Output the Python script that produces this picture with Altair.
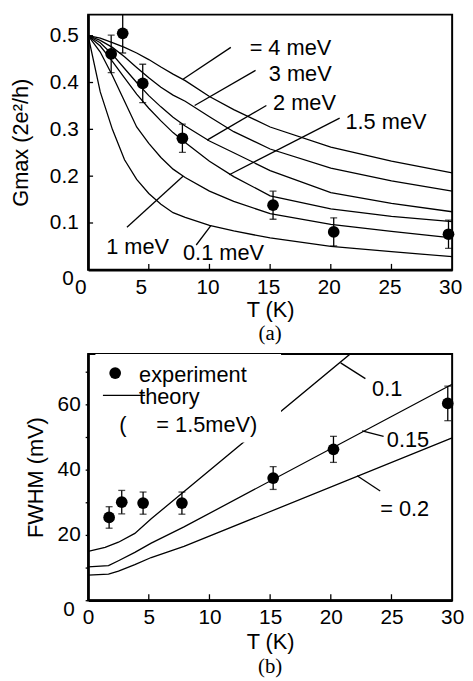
import altair as alt
import pandas as pd

# ---------------- panel (a): G_max vs T ----------------
T_curve = [0, 1, 2, 3, 4, 5, 6, 7, 8, 10, 12, 15, 20, 25, 30]
G_4meV   = [0.5, 0.495, 0.485, 0.475, 0.463, 0.449, 0.433, 0.418, 0.404, 0.370, 0.342, 0.305, 0.262, 0.232, 0.207]
G_3meV   = [0.5, 0.490, 0.475, 0.455, 0.432, 0.410, 0.390, 0.373, 0.360, 0.327, 0.295, 0.258, 0.217, 0.190, 0.168]
G_2meV   = [0.5, 0.485, 0.460, 0.430, 0.400, 0.372, 0.348, 0.326, 0.307, 0.275, 0.250, 0.212, 0.165, 0.142, 0.124]
G_1p5meV = [0.5, 0.478, 0.445, 0.410, 0.375, 0.345, 0.318, 0.293, 0.272, 0.232, 0.199, 0.158, 0.130, 0.114, 0.103]
G_1meV   = [0.5, 0.465, 0.415, 0.360, 0.305, 0.270, 0.240, 0.215, 0.197, 0.168, 0.146, 0.120, 0.097, 0.082, 0.068]
G_01meV  = [0.5, 0.380, 0.300, 0.235, 0.193, 0.163, 0.140, 0.122, 0.112, 0.095, 0.083, 0.068, 0.050, 0.039, 0.028]

exp_T_a = [1.9, 2.85, 4.5, 7.77, 15.24, 20.24, 29.7]
exp_G_a = [0.461, 0.505, 0.398, 0.281, 0.138, 0.081, 0.076]
err_G_a = [0.040, 0.042, 0.041, 0.030, 0.030, 0.030, 0.030]

lab_a_text = ["= 4 meV", "3 meV", "2 meV", "1.5 meV", "1 meV", "0.1 meV"]
lab_a_x    = [13.31, 14.89, 15.24, 21.21, 1.49, 7.82]
lab_a_y    = [0.474, 0.418, 0.356, 0.316, 0.049, 0.035]
ptr_a_x1 = [7.82, 8.78, 9.80, 11.63, 3.20, 8.91]
ptr_a_y1 = [0.407, 0.351, 0.277, 0.203, 0.091, 0.053]
ptr_a_x2 = [11.76, 13.80, 14.69, 20.73, 7.82, 10.13]
ptr_a_y2 = [0.475, 0.426, 0.351, 0.324, 0.200, 0.095]

x_ticks = [0, 5, 10, 15, 20, 25, 30]
y_ticks_a = [0, 0.1, 0.2, 0.3, 0.4, 0.5]

# ---------------- panel (b): FWHM vs T ----------------
T_b01  = [0, 1.4, 2.5, 3.85, 5.2, 21.6, 30]
W_b01  = [15.0, 16.2, 17.8, 20.5, 25.0, 75.6, 101.6]
T_b015 = [0, 1.68, 2.5, 3.85, 5.2, 7.9, 30]
W_b015 = [10.2, 10.6, 12.1, 14.7, 17.5, 22.5, 66.3]
T_b02  = [0, 1.68, 2.5, 3.85, 5.2, 7.9, 30]
W_b02  = [7.7, 8.0, 8.9, 10.9, 13.1, 16.5, 49.8]

exp_T_b = [1.73, 2.77, 4.53, 7.73, 15.25, 20.22, 29.64]
exp_W_b = [25.4, 30.1, 29.8, 29.8, 37.5, 46.3, 60.4]
err_W_b = [3.3, 3.6, 3.4, 3.4, 3.5, 4.0, 5.3]

lab_b_text = ["0.1", "0.15", "= 0.2"]
lab_b_x    = [23.4, 24.62, 24.07]
lab_b_y    = [64.7, 49.3, 28.1]
ptr_b_x1 = [20.81, 22.58, 22.17]
ptr_b_y1 = [72.85, 52.0, 38.2]
ptr_b_x2 = [22.85, 24.35, 24.07]
ptr_b_y2 = [68.0, 50.3, 33.5]

leg_text = ["experiment", "theory", "(", "= 1.5meV)"]
leg_x    = [4.2, 4.2, 2.57, 5.62]
leg_y    = [69.0, 62.5, 53.8, 53.8]
leg_dot_x = [2.23]
leg_dot_y = [69.7]
leg_line_x = [1.22, 4.71]
leg_line_y = [62.9, 62.9]
leg_box_x = [0.6, 15.9]
leg_box_y = [48.4, 75.6]

y_ticks_b = [0, 10, 20, 30, 40, 50, 60, 70]

# ---------------- styling ----------------
W = 368
H_A = 258
H_B = 249
FONT = "Liberation Sans"
LW = 1.3

xs = alt.Scale(domain=[0, 30], nice=False)
ys_a = alt.Scale(domain=[0, 0.545], nice=False)
ys_b = alt.Scale(domain=[0, 75.6], nice=False)

AX_XA = alt.Axis(
    values=x_ticks, ticks=False, grid=False, domainWidth=2.5, domainColor="black",
    labelPadding=7, labelFlush=False, title="T (K)", titlePadding=2,
    labelOffset={"condition": {"test": "datum.value < 10", "value": -8}, "value": -2})
AX_YA = alt.Axis(
    values=y_ticks_a, ticks=False, grid=False, domainWidth=2.5, domainColor="black",
    format=".1~f", title="Gmax (2e²/h)", titlePadding=17, labelFlush=False,
    labelPadding={"condition": {"test": "datum.value == 0", "value": 15}, "value": 10},
    labelOffset={"condition": {"test": "datum.value == 0", "value": 9}, "value": 0})
AX_XB = alt.Axis(
    values=x_ticks, ticks=False, grid=False, domainWidth=2.5, domainColor="black",
    labelPadding=7, labelFlush=False, title="T (K)", titlePadding=4)
AX_YB = alt.Axis(
    values=y_ticks_b, ticks=True, tickSize=3, tickWidth=LW, tickColor="black", grid=False,
    domainWidth=2.5, domainColor="black", title="FWHM (mV)", titlePadding=10, labelFlush=False,
    labelExpr="datum.value % 20 == 0 ? datum.label : ''",
    labelPadding={"condition": {"test": "datum.value == 0", "value": 11}, "value": 5},
    labelOffset={"condition": {"test": "datum.value == 0", "value": 9}, "value": 0})


def XA(f):
    return alt.X(f, scale=xs, axis=AX_XA)


def YA(f):
    return alt.Y(f, scale=ys_a, axis=AX_YA)


def XB(f):
    return alt.X(f, scale=xs, axis=AX_XB)


def YB(f):
    return alt.Y(f, scale=ys_b, axis=AX_YB)


def curve_df(T, G):
    return pd.DataFrame({"T": T, "G": G})


# ---- panel a ----
curves_a = [
    alt.Chart(curve_df(T_curve, g)).mark_line(color="black", strokeWidth=LW, clip=True)
    .encode(x=XA("T:Q"), y=YA("G:Q"), order="T:Q")
    for g in [G_4meV, G_3meV, G_2meV, G_1p5meV, G_1meV, G_01meV]
]

df_exp_a = pd.DataFrame({"T": exp_T_a, "G": exp_G_a,
                         "lo": [g - e for g, e in zip(exp_G_a, err_G_a)],
                         "hi": [g + e for g, e in zip(exp_G_a, err_G_a)]})
err_a = alt.Chart(df_exp_a).mark_rule(color="black", strokeWidth=LW, clip=True).encode(
    x=XA("T:Q"), y=YA("lo:Q"), y2="hi:Q")
cap_lo_a = alt.Chart(df_exp_a).mark_tick(color="black", orient="horizontal", size=7, thickness=LW, clip=True).encode(
    x=XA("T:Q"), y=YA("lo:Q"))
cap_hi_a = alt.Chart(df_exp_a).mark_tick(color="black", orient="horizontal", size=7, thickness=LW, clip=True).encode(
    x=XA("T:Q"), y=YA("hi:Q"))
pts_a = alt.Chart(df_exp_a).mark_circle(color="black", size=140, opacity=1).encode(x=XA("T:Q"), y=YA("G:Q"))

df_ptr_a = pd.DataFrame({"x1": ptr_a_x1, "y1": ptr_a_y1, "x2": ptr_a_x2, "y2": ptr_a_y2})
ptr_a = alt.Chart(df_ptr_a).mark_rule(color="black", strokeWidth=LW).encode(
    x=XA("x1:Q"), y=YA("y1:Q"), x2="x2:Q", y2="y2:Q")

df_lab_a = pd.DataFrame({"T": lab_a_x, "G": lab_a_y, "txt": lab_a_text})
lab_a = alt.Chart(df_lab_a).mark_text(align="left", baseline="middle", font=FONT, fontSize=22, color="black").encode(
    x=XA("T:Q"), y=YA("G:Q"), text="txt:N")

tx_a = alt.Chart(pd.DataFrame({"T": x_ticks[1:-1]})).mark_rule(color="black", strokeWidth=LW).encode(
    x=XA("T:Q"), y=alt.value(H_A), y2=alt.value(H_A - 6))
ty_a = alt.Chart(pd.DataFrame({"G": y_ticks_a[1:]})).mark_rule(color="black", strokeWidth=LW).encode(
    y=YA("G:Q"), x=alt.value(0), x2=alt.value(5))

panel_a = alt.layer(*curves_a, ptr_a, err_a, cap_lo_a, cap_hi_a, pts_a, lab_a, tx_a, ty_a).properties(
    width=W, height=H_A,
    title=alt.TitleParams("(a)", orient="bottom", font="Liberation Serif", fontSize=21,
                          fontWeight="normal", color="black", offset=3))

# ---- panel b ----
lines_b = [
    alt.Chart(curve_df(tt, ww)).mark_line(color="black", strokeWidth=LW, clip=True)
    .encode(x=XB("T:Q"), y=YB("G:Q"), order="T:Q")
    for tt, ww in [(T_b01, W_b01), (T_b015, W_b015), (T_b02, W_b02)]
]

box_b = alt.Chart(pd.DataFrame({"x1": [leg_box_x[0]], "x2": [leg_box_x[1]],
                                "y1": [leg_box_y[0]], "y2": [leg_box_y[1]]})).mark_rect(
    color="white", clip=True).encode(x=XB("x1:Q"), x2="x2:Q", y=YB("y1:Q"), y2="y2:Q")

df_exp_b = pd.DataFrame({"T": exp_T_b, "G": exp_W_b,
                         "lo": [g - e for g, e in zip(exp_W_b, err_W_b)],
                         "hi": [g + e for g, e in zip(exp_W_b, err_W_b)]})
err_b = alt.Chart(df_exp_b).mark_rule(color="black", strokeWidth=LW, clip=True).encode(
    x=XB("T:Q"), y=YB("lo:Q"), y2="hi:Q")
cap_lo_b = alt.Chart(df_exp_b).mark_tick(color="black", orient="horizontal", size=7, thickness=LW).encode(
    x=XB("T:Q"), y=YB("lo:Q"))
cap_hi_b = alt.Chart(df_exp_b).mark_tick(color="black", orient="horizontal", size=7, thickness=LW).encode(
    x=XB("T:Q"), y=YB("hi:Q"))
pts_b = alt.Chart(df_exp_b).mark_circle(color="black", size=140, opacity=1).encode(x=XB("T:Q"), y=YB("G:Q"))

df_ptr_b = pd.DataFrame({"x1": ptr_b_x1, "y1": ptr_b_y1, "x2": ptr_b_x2, "y2": ptr_b_y2})
ptr_b = alt.Chart(df_ptr_b).mark_rule(color="black", strokeWidth=LW).encode(
    x=XB("x1:Q"), y=YB("y1:Q"), x2="x2:Q", y2="y2:Q")

df_lab_b = pd.DataFrame({"T": lab_b_x, "G": lab_b_y, "txt": lab_b_text})
lab_b = alt.Chart(df_lab_b).mark_text(align="left", baseline="middle", font=FONT, fontSize=22, color="black").encode(
    x=XB("T:Q"), y=YB("G:Q"), text="txt:N")

df_leg = pd.DataFrame({"T": leg_x, "G": leg_y, "txt": leg_text})
leg_txt = alt.Chart(df_leg).mark_text(align="left", baseline="middle", font=FONT, fontSize=22, color="black").encode(
    x=XB("T:Q"), y=YB("G:Q"), text="txt:N")
leg_dot = alt.Chart(pd.DataFrame({"T": leg_dot_x, "G": leg_dot_y})).mark_circle(
    color="black", size=140, opacity=1).encode(x=XB("T:Q"), y=YB("G:Q"))
leg_line = alt.Chart(pd.DataFrame({"T": leg_line_x, "G": leg_line_y})).mark_line(
    color="black", strokeWidth=LW).encode(x=XB("T:Q"), y=YB("G:Q"))

tx_b = alt.Chart(pd.DataFrame({"T": x_ticks[1:-1]})).mark_rule(color="black", strokeWidth=LW).encode(
    x=XB("T:Q"), y=alt.value(H_B), y2=alt.value(H_B - 6))

panel_b = alt.layer(*lines_b, box_b, ptr_b, err_b, cap_lo_b, cap_hi_b, pts_b, lab_b,
                    leg_txt, leg_dot, leg_line, tx_b).properties(
    width=W, height=H_B,
    title=alt.TitleParams("(b)", orient="bottom", font="Liberation Serif", fontSize=21,
                          fontWeight="normal", color="black", offset=4))

chart = alt.vconcat(panel_a, panel_b, spacing=8).properties(
    padding={"left": 0, "top": 2, "right": 0, "bottom": 0},
    background="white"
).configure_view(stroke="black", strokeWidth=2).configure_axis(
    labelFont=FONT, labelFontSize=21, labelColor="black",
    titleFont=FONT, titleFontSize=22, titleFontWeight="normal", titleColor="black"
)

chart.save("out.html", embed_options={"renderer": "svg", "actions": False})
